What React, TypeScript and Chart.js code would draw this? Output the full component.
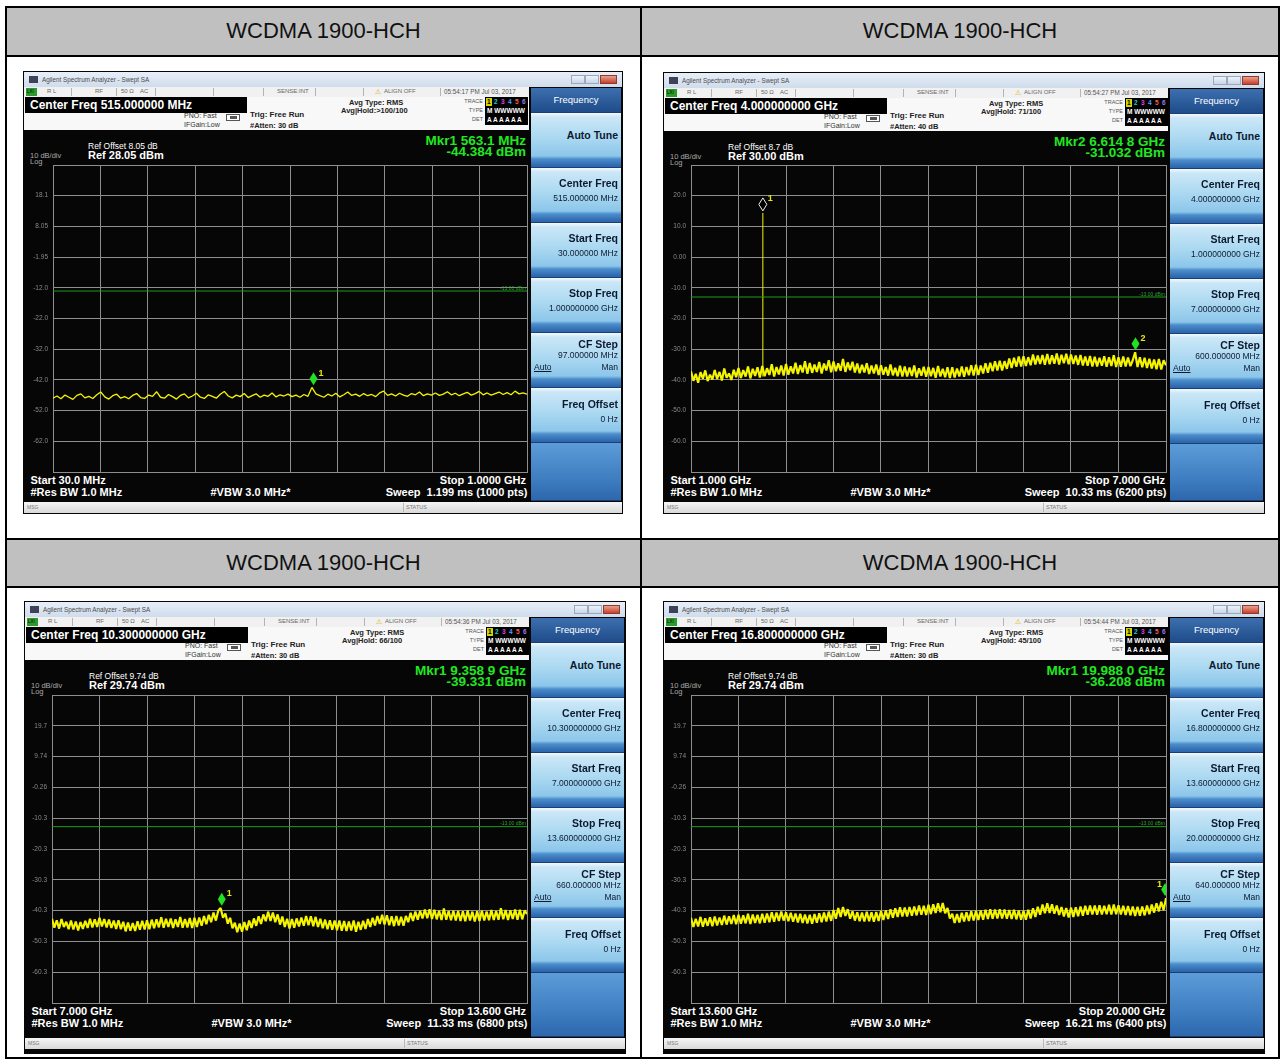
import React, { useEffect, useRef } from "react";
import { Chart, registerables } from "chart.js";

Chart.register(...registerables);

const FONT = '"Liberation Sans", Arial, Helvetica, sans-serif';

// ---------------- data ----------------
const headerTitles = ["WCDMA 1900-HCH", "WCDMA 1900-HCH", "WCDMA 1900-HCH", "WCDMA 1900-HCH"];
const limitLineDbm = -13;
const limitLineLabel = "-13.00 dBm";

// Plot 1 : 30 MHz .. 1 GHz (MHz)
const p1Range = [30, 1000];
const p1RefLevel = 28.05;
const p1YLabels = ["18.1", "8.05", "-1.95", "-12.0", "-22.0", "-32.0", "-42.0", "-52.0", "-62.0"];
const trace1 = [
  -47.9, -47.2, -48.1, -46.9, -47.6, -48.3, -47.0, -46.5, -47.8, -47.3,
  -48.0, -46.8, -45.9, -47.5, -48.2, -47.1, -46.6, -47.9, -47.4, -48.1,
  -47.0, -46.4, -47.7, -48.0, -46.9, -47.3, -45.8, -47.6, -47.9, -46.7,
  -47.4, -48.2, -47.0, -46.5, -47.8, -47.2, -46.3, -47.6, -48.0, -46.8,
  -47.3, -47.9, -46.6, -45.7, -47.2, -47.8, -46.9, -47.4, -46.4, -47.7,
  -47.1, -46.5, -47.6, -46.9, -47.3, -46.2, -47.5, -46.8, -47.2, -46.6,
  -47.4, -46.9, -47.6, -46.7, -47.3, -44.4, -46.5, -47.1, -47.6, -46.6,
  -47.2, -46.3, -47.5, -46.8, -45.9, -47.0, -46.6, -47.3, -46.4, -47.1,
  -46.7, -47.4, -46.2, -45.6, -47.0, -46.5, -47.2, -46.3, -46.9, -47.3,
  -46.4, -46.8, -45.9, -47.1, -46.5, -46.9, -46.2, -47.0, -46.6, -45.8,
  -46.8, -46.3, -47.1, -46.5, -46.0, -46.9, -46.4, -45.7, -46.8, -46.2,
  -46.9, -46.4, -45.9, -46.7, -46.1, -46.8, -45.6, -46.5, -46.2, -46.6,
];
const p1MkrNames = ["1"];
const p1MkrFreqs = [563.1];
const p1MkrLevels = [-44.384];
const p1MkrHollow = [false];

// Plot 2 : 1 .. 7 GHz
const p2Range = [1, 7];
const p2RefLevel = 30;
const p2YLabels = ["20.0", "10.0", "0.00", "-10.0", "-20.0", "-30.0", "-40.0", "-50.0", "-60.0"];
const trace2 = [
  -37.2, -40.3, -38.0, -40.9, -37.5, -39.6, -36.9, -40.4, -38.3, -39.9,
  -36.8, -39.7, -37.4, -40.2, -36.3, -39.3, -37.9, -40.0, -36.7, -39.1,
  -36.1, -39.4, -36.8, -38.9, -35.6, -39.5, -36.4, -38.7, -35.9, -39.2,
  -35.5, -38.8, -36.2, -38.4, -34.9, -38.9, -35.8, -38.2, -35.3, -38.6,
  -34.8, -38.3, -35.6, -37.9, -34.4, -38.1, -35.2, -37.6, -33.9, -38.0,
  -34.5, -37.7, -35.0, -37.4, -34.2, -37.9, -34.7, -36.9, -33.6, -37.5,
  -34.0, -37.2, -34.6, -37.0, -33.2, -37.4, -34.3, -36.8, -34.1, -37.6,
  -34.7, -37.8, -35.1, -37.6, -34.6, -38.1, -35.3, -37.9, -35.0, -38.4,
  -35.2, -38.3, -35.8, -38.6, -35.0, -38.5, -36.1, -38.8, -35.4, -38.9,
  -35.6, -38.9, -36.0, -38.7, -35.3, -39.2, -36.2, -38.6, -35.7, -39.0,
  -35.8, -38.8, -36.1, -39.3, -35.5, -38.9, -36.4, -39.1, -35.9, -39.4,
  -35.9, -39.2, -36.3, -38.9, -35.6, -39.0, -35.8, -38.5, -35.2, -38.6,
  -35.1, -38.4, -35.3, -37.9, -34.6, -37.7, -34.4, -37.2, -33.9, -36.9,
  -33.8, -36.9, -33.9, -36.4, -33.0, -36.1, -32.8, -35.7, -32.4, -35.6,
  -32.3, -35.5, -32.6, -35.2, -31.7, -35.0, -32.1, -34.8, -31.9, -35.1,
  -31.6, -34.9, -32.0, -34.7, -31.4, -35.0, -31.8, -34.6, -31.5, -34.9,
  -31.7, -34.8, -32.1, -35.1, -31.9, -35.3, -32.4, -35.4, -32.2, -35.6,
  -32.5, -35.6, -32.8, -35.4, -32.3, -35.7, -32.6, -35.5, -32.0, -35.8,
  -32.6, -35.7, -32.4, -35.6, -32.7, -35.5, -33.6, -31.0, -35.8, -32.6,
  -35.9, -32.8, -36.1, -33.1, -36.3, -33.4, -36.5, -33.2, -36.6, -33.6,
  -35.2,
];
const p2CarrierFreqs = [1.9076, 1.9076];
const p2CarrierLevels = [-38.9, 14.4];
const p2MkrNames = ["1", "2"];
const p2MkrFreqs = [1.9076, 6.6148];
const p2MkrLevels = [14.4, -31.032];
const p2MkrHollow = [true, false];

// Plot 3 : 7 .. 13.6 GHz
const p3Range = [7, 13.6];
const p3RefLevel = 29.74;
const p34YLabels = ["19.7", "9.74", "-0.26", "-10.3", "-20.3", "-30.3", "-40.3", "-50.3", "-60.3"];
const trace3 = [
  -42.9, -45.8, -43.4, -46.1, -43.0, -45.6, -43.9, -46.3, -43.5, -46.4,
  -43.8, -46.7, -44.0, -46.2, -43.6, -45.9, -42.9, -45.7, -43.1, -45.6,
  -42.6, -45.4, -43.0, -45.7, -43.2, -45.9, -43.5, -46.2, -43.4, -46.3,
  -43.9, -47.0, -44.1, -46.8, -44.3, -46.9, -43.7, -46.5, -43.6, -46.4,
  -43.4, -46.3, -43.2, -46.0, -43.1, -45.7, -42.4, -45.8, -42.9, -45.6,
  -42.8, -45.9, -43.1, -45.6, -42.3, -45.8, -43.0, -45.7, -42.7, -45.9,
  -42.6, -45.6, -42.5, -45.2, -42.0, -44.7, -41.6, -44.0, -40.9, -43.5,
  -40.3, -39.4, -42.6, -41.2, -44.5, -42.6, -46.0, -44.2, -47.3, -44.5,
  -47.1, -44.0, -46.6, -43.5, -45.9, -42.8, -45.2, -42.1, -44.6, -41.5,
  -43.7, -40.6, -43.6, -40.9, -44.0, -41.5, -44.8, -42.2, -45.6, -42.9,
  -46.1, -43.0, -45.8, -42.8, -45.4, -42.5, -45.2, -42.0, -45.0, -42.1,
  -45.3, -42.3, -45.6, -42.9, -46.0, -43.2, -46.3, -43.4, -46.5, -43.5,
  -46.6, -43.5, -46.8, -43.6, -46.9, -43.8, -46.7, -43.5, -47.1, -43.9,
  -46.5, -43.6, -46.2, -43.0, -45.6, -42.6, -45.1, -42.0, -44.6, -41.6,
  -44.8, -41.8, -45.0, -42.1, -45.3, -42.0, -45.1, -42.3, -45.2, -42.0,
  -44.0, -41.0, -43.6, -40.6, -43.2, -40.3, -42.8, -39.9, -42.7, -39.8,
  -43.0, -40.0, -43.1, -40.3, -43.3, -39.6, -43.2, -40.4, -43.4, -40.3,
  -43.5, -40.4, -43.6, -40.5, -43.7, -40.2, -43.5, -40.6, -43.8, -40.5,
  -43.6, -40.3, -43.5, -40.6, -43.4, -40.1, -43.3, -40.4, -43.2, -39.5,
  -43.1, -40.1, -43.3, -40.2, -43.0, -39.9, -43.2, -40.0, -43.1, -40.2,
  -41.4,
];
const p3MkrNames = ["1"];
const p3MkrFreqs = [9.3589];
const p3MkrLevels = [-39.331];
const p3MkrHollow = [false];

// Plot 4 : 13.6 .. 20 GHz
const p4Range = [13.6, 20];
const p4RefLevel = 29.74;
const trace4 = [
  -42.6, -45.6, -42.9, -45.4, -42.3, -45.5, -42.8, -45.2, -42.4, -45.3,
  -42.2, -45.1, -42.5, -44.9, -41.9, -44.8, -42.1, -44.6, -41.7, -44.7,
  -41.6, -44.5, -41.8, -44.4, -41.3, -44.6, -41.5, -44.3, -41.6, -44.4,
  -41.3, -44.2, -41.2, -44.0, -40.8, -43.9, -40.9, -43.6, -40.6, -43.5,
  -40.8, -43.7, -41.0, -43.9, -41.2, -44.1, -41.3, -44.3, -41.5, -44.4,
  -41.6, -44.5, -41.4, -44.2, -41.1, -44.0, -40.9, -43.8, -40.6, -43.6,
  -40.1, -42.9, -39.4, -42.3, -39.1, -42.0, -39.8, -42.9, -40.5, -43.5,
  -40.8, -43.7, -40.9, -43.8, -40.6, -43.7, -40.8, -43.9, -40.7, -43.6,
  -40.4, -43.3, -40.2, -43.0, -39.8, -42.6, -39.5, -42.3, -39.2, -42.2,
  -39.3, -42.2, -39.1, -41.9, -38.9, -41.8, -38.6, -41.6, -38.7, -41.7,
  -38.4, -41.4, -38.2, -41.0, -37.9, -40.8, -37.8, -41.1, -39.4, -42.8,
  -41.3, -44.3, -41.4, -44.1, -41.0, -43.8, -40.8, -43.6, -40.5, -43.5,
  -40.3, -43.3, -40.2, -43.2, -40.0, -43.0, -39.8, -42.9, -39.9, -42.8,
  -39.8, -42.8, -39.9, -42.9, -40.1, -43.0, -40.0, -43.1, -40.2, -43.2,
  -40.3, -43.2, -40.0, -42.8, -39.5, -42.3, -39.0, -41.6, -38.3, -41.1,
  -37.9, -41.0, -38.2, -41.3, -38.6, -41.7, -39.1, -42.2, -39.4, -42.5,
  -39.3, -42.3, -39.2, -42.1, -38.9, -41.9, -38.7, -41.6, -38.6, -41.5,
  -38.6, -41.6, -38.5, -41.5, -38.7, -41.4, -38.4, -41.5, -38.3, -41.4,
  -38.5, -41.5, -38.7, -41.7, -38.8, -41.8, -38.9, -42.0, -39.0, -41.9,
  -38.9, -41.8, -38.6, -41.4, -38.3, -40.9, -37.9, -40.5, -37.4, -40.1,
  -36.2,
];
const p4MkrNames = ["1"];
const p4MkrFreqs = [19.988];
const p4MkrLevels = [-36.208];
const p4MkrHollow = [false];

// ---------------- texts of each screen ----------------
const screenTexts = [
  {
    cf: "Center Freq 515.000000 MHz", time: "05:54:17 PM Jul 03, 2017", hold: "Avg|Hold:>100/100", atten: "#Atten: 30 dB",
    refOff: "Ref Offset 8.05 dB", ref: "Ref 28.05 dBm", mk1: "Mkr1 563.1 MHz", mk2: "-44.384 dBm",
    start: "Start 30.0 MHz", stop: "Stop 1.0000 GHz", sweep: "Sweep  1.199 ms (1000 pts)",
    skCenter: "515.000000 MHz", skStart: "30.000000 MHz", skStop: "1.000000000 GHz", skStep: "97.000000 MHz",
  },
  {
    cf: "Center Freq 4.000000000 GHz", time: "05:54:27 PM Jul 03, 2017", hold: "Avg|Hold: 71/100", atten: "#Atten: 40 dB",
    refOff: "Ref Offset 8.7 dB", ref: "Ref 30.00 dBm", mk1: "Mkr2 6.614 8 GHz", mk2: "-31.032 dBm",
    start: "Start 1.000 GHz", stop: "Stop 7.000 GHz", sweep: "Sweep  10.33 ms (6200 pts)",
    skCenter: "4.000000000 GHz", skStart: "1.000000000 GHz", skStop: "7.000000000 GHz", skStep: "600.000000 MHz",
  },
  {
    cf: "Center Freq 10.300000000 GHz", time: "05:54:36 PM Jul 03, 2017", hold: "Avg|Hold: 66/100", atten: "#Atten: 30 dB",
    refOff: "Ref Offset 9.74 dB", ref: "Ref 29.74 dBm", mk1: "Mkr1 9.358 9 GHz", mk2: "-39.331 dBm",
    start: "Start 7.000 GHz", stop: "Stop 13.600 GHz", sweep: "Sweep  11.33 ms (6800 pts)",
    skCenter: "10.300000000 GHz", skStart: "7.000000000 GHz", skStop: "13.600000000 GHz", skStep: "660.000000 MHz",
  },
  {
    cf: "Center Freq 16.800000000 GHz", time: "05:54:44 PM Jul 03, 2017", hold: "Avg|Hold: 45/100", atten: "#Atten: 30 dB",
    refOff: "Ref Offset 9.74 dB", ref: "Ref 29.74 dBm", mk1: "Mkr1 19.988 0 GHz", mk2: "-36.208 dBm",
    start: "Start 13.600 GHz", stop: "Stop 20.000 GHz", sweep: "Sweep  16.21 ms (6400 pts)",
    skCenter: "16.800000000 GHz", skStart: "13.600000000 GHz", skStop: "20.000000000 GHz", skStep: "640.000000 MHz",
  },
];

const plots = [
  { range: p1Range, refLevel: p1RefLevel, yLabels: p1YLabels, trace: trace1, lineW: 1.3, mk: { names: p1MkrNames, freqs: p1MkrFreqs, levels: p1MkrLevels, hollow: p1MkrHollow } },
  { range: p2Range, refLevel: p2RefLevel, yLabels: p2YLabels, trace: trace2, lineW: 2.2, extraX: p2CarrierFreqs, extraY: p2CarrierLevels, mk: { names: p2MkrNames, freqs: p2MkrFreqs, levels: p2MkrLevels, hollow: p2MkrHollow } },
  { range: p3Range, refLevel: p3RefLevel, yLabels: p34YLabels, trace: trace3, lineW: 2.2, mk: { names: p3MkrNames, freqs: p3MkrFreqs, levels: p3MkrLevels, hollow: p3MkrHollow } },
  { range: p4Range, refLevel: p4RefLevel, yLabels: p34YLabels, trace: trace4, lineW: 2.2, mk: { names: p4MkrNames, freqs: p4MkrFreqs, levels: p4MkrLevels, hollow: p4MkrHollow } },
];

// layout of the four screenshots (absolute page px)
const geos = [
  { x: 23, y: 71, w: 600, h: 443, pl: 53, pt: 165, pw: 474, ph: 307, msg: 431 },
  { x: 663, y: 72, w: 602, h: 442, pl: 691, pt: 165, pw: 475, ph: 307, msg: 430 },
  { x: 24, y: 601, w: 602, h: 453, pl: 52, pt: 695, pw: 475, ph: 308, msg: 437 },
  { x: 663, y: 601, w: 602, h: 453, pl: 691, pt: 695, pw: 475, ph: 308, msg: 437 },
];

// ---------------- helpers ----------------
function Txt({ x, y, s, t, c = "#fff", b = false, a = "l", u = false, ls = 0 }: any) {
  const st: any = {
    position: "absolute", top: y - s * 0.6, height: s * 1.2, lineHeight: `${s * 1.2}px`,
    fontSize: s, color: c, fontWeight: b ? "bold" : "normal", whiteSpace: "pre",
    fontFamily: FONT, textDecoration: u ? "underline" : "none", letterSpacing: ls,
  };
  if (a === "r") { st.left = x - 300; st.width = 300; st.textAlign = "right"; }
  else if (a === "c") { st.left = x - 150; st.width = 300; st.textAlign = "center"; }
  else st.left = x;
  return <div style={st}>{t}</div>;
}

function Box({ l, t, w, h, bg, extra }: any) {
  return <div style={{ position: "absolute", left: l, top: t, width: w, height: h, background: bg, ...(extra || {}) }} />;
}

function SpecChart({ pl, pt, pw, ph, plot }: any) {
  const ref = useRef<HTMLCanvasElement>(null);
  const axisW = 28, padT = 2, padB = 2, padR = 3;
  const cw = axisW + pw + padR, chh = ph + padT + padB;
  useEffect(() => {
    const [x0, x1] = plot.range;
    const n = plot.trace.length;
    const pts = plot.trace.map((v: number, i: number) => ({ x: x0 + ((x1 - x0) * i) / (n - 1), y: v }));
    const datasets: any[] = [
      { data: [{ x: x0, y: limitLineDbm }, { x: x1, y: limitLineDbm }], borderColor: "#1c9c1c", borderWidth: 1, pointRadius: 0 },
      { data: pts, borderColor: "#f4f400", borderWidth: plot.lineW, pointRadius: 0, borderJoinStyle: "bevel" },
    ];
    if (plot.extraX) {
      datasets.push({ data: plot.extraX.map((x: number, i: number) => ({ x, y: plot.extraY[i] })), borderColor: "#f4f400", borderWidth: 1, pointRadius: 0 });
    }
    const labels = ["", ...plot.yLabels, ""];
    const lo = plot.refLevel - 100;
    const gridColor = "#8e8e8e";
    const mk = plot.mk;
    const markerPlugin = {
      id: "saMarkers",
      afterDatasetsDraw(chart: any) {
        const { ctx, chartArea: ca, scales } = chart;
        mk.names.forEach((name: string, i: number) => {
          const x = scales.x.getPixelForValue(mk.freqs[i]);
          const y = scales.y.getPixelForValue(mk.levels[i]) - 2;
          ctx.save();
          ctx.beginPath();
          ctx.rect(ca.left, ca.top - 20, ca.right - ca.left, ca.bottom - ca.top + 20);
          ctx.clip();
          ctx.beginPath();
          ctx.moveTo(x, y);
          ctx.lineTo(x + 4, y - 6.5);
          ctx.lineTo(x, y - 13);
          ctx.lineTo(x - 4, y - 6.5);
          ctx.closePath();
          if (mk.hollow[i]) {
            ctx.fillStyle = "#000"; ctx.fill();
            ctx.strokeStyle = "#f0f0f0"; ctx.lineWidth = 1; ctx.stroke();
          } else {
            ctx.fillStyle = "#22e022"; ctx.fill();
          }
          ctx.restore();
          ctx.save();
          ctx.fillStyle = "#e8e810";
          ctx.font = `bold 9px ${FONT}`;
          ctx.textBaseline = "middle";
          const lx = x + 9 > ca.right ? x - 8 : x + 5;
          ctx.fillText(name, lx, y - 12);
          ctx.restore();
        });
      },
    };
    const chart = new Chart(ref.current as HTMLCanvasElement, {
      type: "line",
      data: { datasets },
      options: {
        animation: false, responsive: false, devicePixelRatio: 1, maintainAspectRatio: false,
        layout: { padding: { top: padT, bottom: padB, left: 0, right: padR } },
        plugins: { legend: { display: false }, tooltip: { enabled: false } },
        elements: { line: { tension: 0 } },
        scales: {
          x: {
            type: "linear", min: x0, max: x1,
            afterBuildTicks: (s: any) => { s.ticks = Array.from({ length: 11 }, (_, i) => ({ value: x0 + ((x1 - x0) * i) / 10 })); },
            afterFit: (s: any) => { s.height = 0; s.paddingLeft = 0; s.paddingRight = 0; s.paddingTop = 0; s.paddingBottom = 0; },
            ticks: { display: false, autoSkip: false },
            grid: { color: gridColor, lineWidth: 1, drawTicks: false },
            border: { display: true, color: gridColor, width: 1 },
          },
          y: {
            type: "linear", min: lo, max: plot.refLevel,
            afterBuildTicks: (s: any) => { s.ticks = Array.from({ length: 11 }, (_, i) => ({ value: lo + i * 10 })); },
            afterFit: (s: any) => { s.width = axisW; s.paddingTop = 0; s.paddingBottom = 0; s.paddingLeft = 0; s.paddingRight = 0; },
            ticks: {
              autoSkip: false, padding: 5, color: "#8a8a8a",
              font: { family: "Liberation Sans", size: 6.5 },
              callback: (_v: any, i: number) => labels[10 - i],
            },
            grid: { color: gridColor, lineWidth: 1, drawTicks: false },
            border: { display: true, color: gridColor, width: 1 },
          },
        },
      } as any,
      plugins: [markerPlugin as any],
    });
    return () => chart.destroy();
  }, []);
  return (
    <canvas ref={ref} width={cw} height={chh}
      style={{ position: "absolute", left: pl - axisW, top: pt - padT, width: cw, height: chh }} />
  );
}

function SoftBtn({ top, h, L, W, children }: any) {
  const bg = `linear-gradient(to bottom, #f2f9fd 0px, #cbe7f7 4px, #aad8f1 ${Math.round(h * 0.45)}px, #8cc6ea ${h - 12}px, #4c8dcb ${h - 9}px, #2d67ad ${h - 2}px)`;
  return <div style={{ position: "absolute", left: L, top, width: W, height: h - 1, background: bg }}>{children}</div>;
}

function Screen({ g, tx, plot }: any) {
  const rpl = g.pl - g.x, rpt = g.pt - g.y, rpr = rpl + g.pw, rpb = rpt + g.ph;
  const PL = rpr + 4, PW = g.w - PL - 2;
  const limitY = rpt + ((plot.refLevel - limitLineDbm) / 100) * g.ph;
  const skTitle = "#0c1a30";
  const seps = [48, 93, 132, 190, 240, 292, 340, 417];
  const traceNums = ["1", "2", "3", "4", "5", "6"];
  const traceCols = ["#000", "#19d0d0", "#e040e0", "#4f9fff", "#ff5a5a", "#9a7aff"];
  return (
    <div style={{ position: "absolute", left: g.x, top: g.y, width: g.w, height: g.h, background: "#060606", overflow: "hidden" }}>
      {/* title bar */}
      <Box l={1} t={1} w={g.w - 2} h={15} bg="linear-gradient(#e8eff8, #cfdcec)" />
      <Box l={6} t={5} w={9} h={7} bg="#3d4257" />
      <Txt x={19} y={8.5} s={6.3} c="#4b4b4b" t="Agilent Spectrum Analyzer - Swept SA" />
      <Box l={g.w - 52} t={4} w={14} h={9} bg="linear-gradient(#eef3f9,#c9d6e6)" extra={{ border: "1px solid #9aa9bd", boxSizing: "border-box" }} />
      <Box l={g.w - 38} t={4} w={14} h={9} bg="linear-gradient(#eef3f9,#c9d6e6)" extra={{ border: "1px solid #9aa9bd", boxSizing: "border-box" }} />
      <Box l={g.w - 23} t={4} w={17} h={9} bg="linear-gradient(#e9a08f,#c7402c)" extra={{ border: "1px solid #8c3a2a", boxSizing: "border-box" }} />
      {/* status row */}
      <Box l={1} t={16} w={PL - 3} h={10} bg="#f1f1f1" />
      <Box l={3} t={17} w={11} h={8} bg="#2c9a2c" />
      <Txt x={4} y={21} s={4.5} c="#000" t="LXI" />
      {seps.map((sx) => <Box key={sx} l={sx} t={17} w={1} h={8} bg="#b4b4b4" />)}
      <Txt x={24} y={21} s={6} c="#666" t="R L" />
      <Txt x={72} y={21} s={6} c="#666" t="RF" />
      <Txt x={98} y={21} s={6} c="#666" t="50 Ω" />
      <Txt x={117} y={21} s={6} c="#666" t="AC" />
      <Txt x={254} y={21} s={6} c="#666" t="SENSE:INT" />
      <Txt x={352} y={21} s={7} c="#d8a800" t="⚠" />
      <Txt x={361} y={21} s={6} c="#666" t="ALIGN OFF" />
      <Txt x={421} y={21} s={6.3} c="#555" t={tx.time} />
      {/* info area */}
      <Box l={1} t={26} w={PL - 3} h={33} bg="#f8f8f8" />
      <Box l={2} t={26} w={222} h={16} bg="#000" />
      <Txt x={7} y={34} s={12} b t={tx.cf} />
      <Txt x={161} y={45.5} s={7} c="#333" t="PNO: Fast" />
      <Box l={203} t={42.5} w={14} h={7} bg="#fff" extra={{ border: "1px solid #555", boxSizing: "border-box" }} />
      <Box l={207} t={44.5} w={7} h={3} bg="#555" />
      <Txt x={161} y={54.5} s={7} c="#333" t="IFGain:Low" />
      <Txt x={227} y={43.5} s={8} b c="#222" t="Trig: Free Run" />
      <Txt x={227} y={54} s={7.5} b c="#222" t={tx.atten} />
      <Txt x={326} y={31} s={7.5} b c="#222" t="Avg Type: RMS" />
      <Txt x={318} y={39.5} s={7.5} b c="#222" t={tx.hold} />
      <Txt x={460} y={30.5} s={5.5} c="#555" a="r" t="TRACE" />
      <Txt x={460} y={39.5} s={5.5} c="#555" a="r" t="TYPE" />
      <Txt x={460} y={48.5} s={5.5} c="#555" a="r" t="DET" />
      <Box l={462} t={26} w={43} h={28} bg="#000" />
      <Box l={463} t={27} w={6} h={8} bg="#d4d400" />
      {traceNums.map((nm, k) => <Txt key={nm} x={464 + k * 7} y={31} s={6.5} b c={traceCols[k]} t={nm} />)}
      <Txt x={464} y={40} s={6.5} b c="#fff" t="M WWWWW" />
      <Txt x={464} y={49} s={6.5} b c="#fff" t="A A A A A A" />
      {/* display texts */}
      <Txt x={65} y={75} s={8.5} t={tx.refOff} />
      <Txt x={7} y={84.5} s={7.5} c="#a8a8a8" t="10 dB/div" />
      <Txt x={65} y={85} s={11} b t={tx.ref} />
      <Txt x={7} y={90.5} s={7.5} c="#a8a8a8" t="Log" />
      <Txt x={rpr - 1} y={70} s={13.5} b c="#22e622" a="r" t={tx.mk1} />
      <Txt x={rpr - 1} y={81.5} s={13.5} b c="#22e622" a="r" t={tx.mk2} />
      <SpecChart pl={rpl} pt={rpt} pw={g.pw} ph={g.ph} plot={plot} />
      <Txt x={rpr - 1} y={limitY - 3.5} s={5} c="#2aa02a" a="r" t={limitLineLabel} />
      {/* bottom annotations */}
      <Txt x={7.5} y={rpb + 9} s={11} b t={tx.start} />
      <Txt x={7.5} y={rpb + 20.5} s={11} b t="#Res BW 1.0 MHz" />
      <Txt x={187.5} y={rpb + 20.5} s={11} b t="#VBW 3.0 MHz*" />
      <Txt x={rpr - 1} y={rpb + 9} s={11} b a="r" t={tx.stop} />
      <Txt x={rpr + 0.5} y={rpb + 20.5} s={11} b a="r" t={tx.sweep} />
      {/* MSG bar */}
      <Box l={1} t={g.msg} w={g.w - 2} h={11} bg="linear-gradient(#f6f6f6,#d9d9d9)" />
      <Txt x={4} y={g.msg + 5} s={5} c="#777" t="MSG" />
      <Box l={380} t={g.msg + 1} w={1} h={9} bg="#b9b9b9" />
      <Txt x={383} y={g.msg + 5.5} s={5.5} c="#777" t="STATUS" />
      {/* softkey panel */}
      <Box l={PL} t={17} w={PW} h={g.msg - 18} bg="#1b3f75" />
      <Box l={PL} t={17} w={PW} h={24} bg="linear-gradient(#3d6fae,#1f4c8b)" />
      <Txt x={PL + PW / 2} y={29} s={9.5} a="c" t="Frequency" />
      <SoftBtn top={42} h={55} L={PL} W={PW}>
        <Txt x={PW - 3} y={22} s={10.5} b c={skTitle} a="r" t="Auto Tune" />
      </SoftBtn>
      <SoftBtn top={97} h={55} L={PL} W={PW}>
        <Txt x={PW - 3} y={15} s={10.5} b c={skTitle} a="r" t="Center Freq" />
        <Txt x={PW - 3} y={30} s={8.5} c={skTitle} a="r" t={tx.skCenter} />
      </SoftBtn>
      <SoftBtn top={152} h={55} L={PL} W={PW}>
        <Txt x={PW - 3} y={15} s={10.5} b c={skTitle} a="r" t="Start Freq" />
        <Txt x={PW - 3} y={30} s={8.5} c={skTitle} a="r" t={tx.skStart} />
      </SoftBtn>
      <SoftBtn top={207} h={55} L={PL} W={PW}>
        <Txt x={PW - 3} y={15} s={10.5} b c={skTitle} a="r" t="Stop Freq" />
        <Txt x={PW - 3} y={30} s={8.5} c={skTitle} a="r" t={tx.skStop} />
      </SoftBtn>
      <SoftBtn top={262} h={55} L={PL} W={PW}>
        <Txt x={PW - 3} y={11} s={10.5} b c={skTitle} a="r" t="CF Step" />
        <Txt x={PW - 3} y={22} s={8.5} c={skTitle} a="r" t={tx.skStep} />
        <Txt x={3} y={34} s={8.5} c={skTitle} u t="Auto" />
        <Txt x={PW - 3} y={34} s={8.5} c={skTitle} a="r" t="Man" />
      </SoftBtn>
      <SoftBtn top={317} h={55} L={PL} W={PW}>
        <Txt x={PW - 3} y={16} s={10.5} b c={skTitle} a="r" t="Freq Offset" />
        <Txt x={PW - 3} y={31} s={8.5} c={skTitle} a="r" t="0 Hz" />
      </SoftBtn>
      <Box l={PL} t={372} w={PW} h={g.msg - 374} bg="linear-gradient(#5c9cd8 0%, #3f7fc2 60%, #2d67ad 100%)" />
    </div>
  );
}

export default function App() {
  const line = "#000";
  return (
    <div style={{ position: "absolute", left: 0, top: 0, width: 1285, height: 1064, background: "#fff", overflow: "hidden", fontFamily: FONT }}>
      {/* header fills */}
      <Box l={7} t={8} w={1271} h={47} bg="#c0c0c0" />
      <Box l={7} t={540} w={1271} h={46} bg="#c0c0c0" />
      {/* table lines */}
      <Box l={5} t={6} w={1275} h={2} bg={line} />
      <Box l={5} t={55} w={1275} h={2} bg={line} />
      <Box l={5} t={538} w={1275} h={2} bg={line} />
      <Box l={5} t={586} w={1275} h={2} bg={line} />
      <Box l={5} t={1057} w={1275} h={2} bg={line} />
      <Box l={5} t={6} w={2} h={1053} bg={line} />
      <Box l={640} t={6} w={2} h={1053} bg={line} />
      <Box l={1278} t={6} w={2} h={1053} bg={line} />
      {/* header titles */}
      <Txt x={323.5} y={31.5} s={22} c="#111" a="c" t={headerTitles[0]} />
      <Txt x={960} y={31.5} s={22} c="#111" a="c" t={headerTitles[1]} />
      <Txt x={323.5} y={563} s={22} c="#111" a="c" t={headerTitles[2]} />
      <Txt x={960} y={563} s={22} c="#111" a="c" t={headerTitles[3]} />
      {/* screenshots */}
      {geos.map((g, i) => <Screen key={i} g={g} tx={screenTexts[i]} plot={plots[i]} />)}
    </div>
  );
}
